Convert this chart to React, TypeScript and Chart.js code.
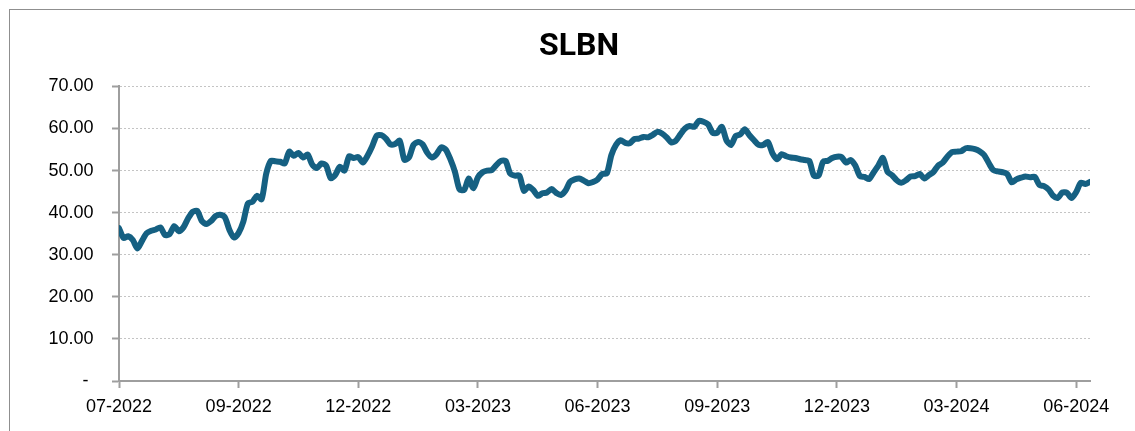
import React, { useEffect, useRef } from 'react';
import { Chart, registerables } from 'chart.js';

Chart.register(...registerables);

// Axis tick labels (one every 26 half-week observations)
const tickLabels = ['07-2022', '09-2022', '12-2022', '03-2023', '06-2023', '09-2023', '12-2023', '03-2024', '06-2024'];
const tickInterval = 26;
const yTickValues = [0, 10, 20, 30, 40, 50, 60, 70];

// SLBN closing prices, sampled roughly twice a week (07-2022 .. 07-2024)
const prices = [
  36.3, 34.0, 34.4, 33.5, 31.5, 33.3, 35.1, 35.7, 36.0, 36.5,
  34.7, 34.9, 36.8, 35.6, 36.5, 38.6, 40.2, 40.4, 38.0, 37.3,
  38.0, 39.2, 39.5, 38.9, 35.9, 34.1, 35.2, 37.8, 42.2, 42.6,
  44.0, 43.2, 49.3, 52.3, 52.2, 52.1, 51.7, 54.5, 53.5, 54.2,
  53.1, 53.8, 51.4, 50.6, 51.7, 51.2, 48.2, 49.0, 50.9, 50.0,
  53.4, 53.0, 53.2, 51.9, 53.5, 55.7, 58.3, 58.4, 57.6, 56.2,
  56.3, 57.1, 52.6, 53.1, 56.1, 56.8, 56.2, 54.2, 53.1, 53.9,
  55.5, 55.0, 52.7, 49.7, 45.5, 45.4, 48.1, 45.8, 48.4, 49.6,
  50.0, 50.1, 51.3, 52.3, 52.3, 49.3, 48.8, 48.8, 45.2, 46.2,
  45.4, 44.0, 44.6, 44.8, 45.6, 44.7, 44.2, 45.2, 47.3, 47.9,
  48.1, 47.6, 47.0, 47.3, 47.9, 49.2, 49.3, 53.7, 56.1, 57.2,
  56.6, 56.5, 57.5, 57.6, 58.0, 57.9, 58.5, 59.2, 58.8, 57.9,
  56.7, 57.1, 58.6, 60.0, 60.6, 60.4, 61.8, 61.6, 61.0, 59.0,
  59.0, 60.4, 57.2, 56.1, 58.2, 58.6, 59.8, 58.4, 57.2, 56.1,
  56.1, 56.8, 54.1, 52.7, 53.9, 53.4, 53.1, 53.0, 52.7, 52.5,
  52.3, 48.8, 48.8, 52.1, 52.3, 53.0, 53.3, 53.2, 51.9, 52.5,
  51.2, 48.7, 48.5, 48.0, 49.6, 51.2, 53.0, 49.7, 48.9, 47.7,
  47.1, 47.7, 48.6, 48.7, 49.2, 48.1, 48.9, 49.7, 51.2, 51.9,
  53.3, 54.4, 54.5, 54.6, 55.3, 55.3, 55.1, 54.6, 53.7, 51.8,
  50.1, 49.8, 49.6, 49.2, 47.2, 47.9, 48.3, 48.6, 48.4, 48.5,
  46.6, 46.3, 45.5, 44.0, 43.5, 44.8, 44.7, 43.5, 44.9, 47.1,
  46.8, 47.3,
];

const tickFont = { family: "'Liberation Sans', Arial, sans-serif", size: 18 };
const axisGray = '#9e9e9e';

export default function App() {
  const ref = useRef<HTMLCanvasElement>(null);

  useEffect(() => {
    const chart = new Chart(ref.current as HTMLCanvasElement, {
      type: 'line',
      data: {
        labels: prices.map((_, i) => i),
        datasets: [
          {
            label: 'SLBN',
            data: prices,
            yAxisID: 'y',
            borderColor: '#156082',
            borderWidth: 6,
            pointRadius: 0,
            tension: 0.25,
            borderJoinStyle: 'round',
            borderCapStyle: 'round',
            fill: false,
          },
        ],
      },
      options: {
        responsive: false,
        animation: false,
        devicePixelRatio: 1,
        layout: { padding: { left: 23, right: 0, top: 0, bottom: 0 } },
        plugins: {
          legend: { display: false },
          tooltip: { enabled: false },
          title: {
            display: true,
            text: 'SLBN',
            color: '#000',
            font: { family: 'Roboto, Arial, sans-serif', size: 32, weight: 'bold', lineHeight: 1.2 },
            padding: { top: 28, bottom: 20 },
          },
        },
        scales: {
          x: {
            type: 'linear',
            min: 0,
            max: prices.length - 1,
            afterBuildTicks: (s: any) => {
              s.ticks = tickLabels.map((_, k) => ({ value: k * tickInterval }));
            },
            afterFit: (s: any) => {
              s.height = 50;
            },
            ticks: {
              autoSkip: false,
              maxRotation: 0,
              padding: 8,
              color: '#000',
              font: tickFont,
              callback: (v: any) => tickLabels[Math.round(Number(v) / tickInterval)] ?? '',
            },
            grid: {
              drawOnChartArea: false,
              drawTicks: true,
              tickLength: 7,
              tickColor: axisGray,
              tickWidth: 2,
            },
            border: { display: true, color: axisGray, width: 2 },
          },
          y: {
            position: 'left',
            min: 0,
            max: 70,
            afterBuildTicks: (s: any) => {
              s.ticks = yTickValues.map((v) => ({ value: v }));
            },
            afterFit: (s: any) => {
              s.width = 96;
            },
            ticks: {
              padding: 18.5,
              color: '#000',
              font: tickFont,
              callback: (v: any) => (Number(v) === 0 ? '- ' : Number(v).toFixed(2)),
            },
            grid: {
              color: '#c4c4c4',
              lineWidth: 1,
              drawTicks: true,
              tickLength: 7,
              tickColor: axisGray,
              tickWidth: 2,
              tickBorderDash: [],
            },
            border: { display: true, color: axisGray, width: 2, dash: [2, 2] },
          },
          yRight: {
            position: 'right',
            min: 0,
            max: 70,
            afterFit: (s: any) => {
              s.width = 45;
            },
            ticks: { display: false },
            grid: { display: false, drawTicks: false },
            border: { display: false },
          },
        },
      },
    } as any);
    return () => chart.destroy();
  }, []);

  return (
    <div style={{ position: 'fixed', left: 0, top: 0, width: 1135, height: 431, overflow: 'hidden', background: '#fff' }}>
      <div
        style={{
          position: 'absolute',
          left: 9,
          top: 9,
          width: 1300,
          height: 600,
          borderLeft: '1px solid #8f8f8f',
          borderTop: '1px solid #8f8f8f',
        }}
      />
      <canvas ref={ref} width={1135} height={431} style={{ position: 'absolute', left: 0, top: 0 }} />
    </div>
  );
}
